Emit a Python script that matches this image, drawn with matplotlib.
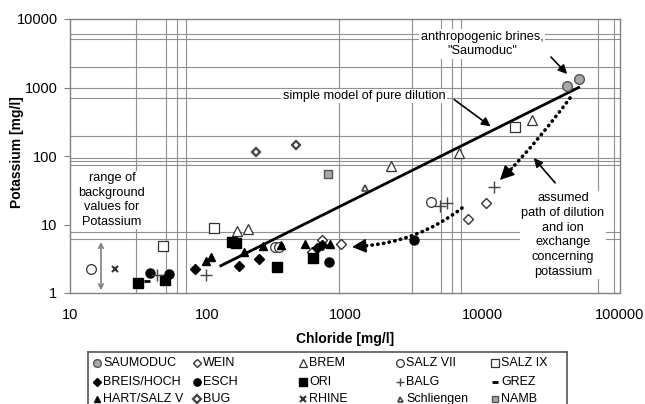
import matplotlib.pyplot as plt

plt.rcParams['font.family'] = ['Liberation Sans', 'DejaVu Sans']

# Chloride / Potassium values [mg/l]
saumoduc_cl = [41200, 50400]
saumoduc_k = [1050, 1330]
wein_cl = [681, 935, 575, 7850, 10600]
wein_k = [5.9, 5.2, 4.0, 12, 20.6]
brem_cl = [164, 197, 2160, 6750, 22900]
brem_k = [8.0, 8.6, 71, 111, 336]
salz7_cl = [14.2, 310, 331, 4220]
salz7_k = [2.24, 4.7, 4.7, 21]
salz9_cl = [47.4, 111, 17200]
salz9_k = [4.9, 8.9, 265]
breis_cl = [81, 169, 237, 625, 681]
breis_k = [2.24, 2.48, 3.13, 4.5, 5.0]
esch_cl = [38.2, 52.5, 766, 3180]
esch_k = [1.96, 1.89, 2.8, 5.9]
ori_cl = [31.3, 49.1, 151, 160, 320, 585]
ori_k = [1.40, 1.55, 5.6, 5.4, 2.4, 3.24]
balg_cl = [43, 97.5, 4900, 5520, 12100]
balg_k = [1.83, 1.83, 18.6, 20.6, 35]
grez_cl = [36.3]
grez_k = [1.5]
hart_cl = [97.5, 106, 184, 253, 343, 512, 778]
hart_k = [2.93, 3.36, 3.96, 4.9, 5.0, 5.2, 5.2]
bug_cl = [225, 440]
bug_k = [114, 145]
rhine_cl = [21.2]
rhine_k = [2.24]
schliengen_cl = [1397]
schliengen_k = [34]
namb_cl = [752]
namb_k = [55]

# simple model of pure dilution
dilution_cl = [125, 50000]
dilution_k = [2.5, 1000]

# odd grid lines of the original figure
grid_x = [30, 50, 60, 70, 904, 3070, 5000, 6000, 7000, 69000, 90000]
grid_y = [6000, 5100, 2000, 985, 703, 196, 93, 85, 74, 7.8, 6.1]

# name, x, y, marker, size, face, edge, edge width
series = [
    ('SAUMODUC', saumoduc_cl, saumoduc_k, 'o', 7, '#a8a8a8', '#555555', 1.0),
    ('WEIN', wein_cl, wein_k, 'D', 5, 'white', '#333333', 1.0),
    ('BREM', brem_cl, brem_k, '^', 7, 'white', '#333333', 0.9),
    ('SALZ VII', salz7_cl, salz7_k, 'o', 7, 'white', '#333333', 0.9),
    ('SALZ IX', salz9_cl, salz9_k, 's', 7, 'white', '#333333', 0.9),
    ('BREIS/HOCH', breis_cl, breis_k, 'D', 5, 'black', 'black', 1.0),
    ('ESCH', esch_cl, esch_k, 'o', 6.5, 'black', 'black', 1.0),
    ('ORI', ori_cl, ori_k, 's', 6.5, 'black', 'black', 1.0),
    ('BALG', balg_cl, balg_k, '+', 8, 'none', '#444444', 1.0),
    ('GREZ', grez_cl, grez_k, '_', 5, 'none', 'black', 2.0),
    ('HART/SALZ V', hart_cl, hart_k, '^', 6, 'black', 'black', 1.0),
    ('BUG', bug_cl, bug_k, 'D', 4.5, 'white', '#444444', 1.6),
    ('RHINE', rhine_cl, rhine_k, 'x', 5, 'none', '#333333', 1.5),
    ('Schliengen', schliengen_cl, schliengen_k, '^', 4.5, 'white', '#444444', 1.2),
    ('NAMB', namb_cl, namb_k, 's', 6, '#a8a8a8', '#555555', 1.0),
]

fig = plt.figure(figsize=(6.45, 4.04), dpi=100)
ax = fig.add_axes([70 / 645, 111 / 404, 550 / 645, 274 / 404])
ax.set_xscale('log')
ax.set_yscale('log')
ax.set_xlim(10, 100000)
ax.set_ylim(1, 10000)

for gx in grid_x:
    ax.axvline(gx, color='#909090', lw=0.8, zorder=0.5)
for gy in grid_y:
    ax.axhline(gy, color='#909090', lw=0.8, zorder=0.5)

ax.plot(dilution_cl, dilution_k, color='black', lw=2, zorder=2)

for name, x, y, m, ms, fc, ec, mew in series:
    ax.plot(x, y, linestyle='none', marker=m, ms=ms, mfc=fc, mec=ec,
            mew=mew, zorder=3)

ax.set_xticks([10, 100, 1000, 10000, 100000])
ax.set_xticklabels(['10', '100', '1000', '10000', '100000'])
ax.set_yticks([1, 10, 100, 1000, 10000])
ax.set_yticklabels(['1', '10', '100', '1000', '10000'])
ax.minorticks_off()
ax.tick_params(axis='x', length=0, pad=11, labelsize=10.5)
ax.tick_params(axis='y', length=4, color='#808080', pad=5, labelsize=10.5)
for sp in ax.spines.values():
    sp.set_color('#808080')
    sp.set_linewidth(1)

box = dict(facecolor='white', edgecolor='none', pad=1)
arrow = dict(arrowstyle='-|>', color='black', lw=1.2, mutation_scale=13)

ax.text(1375, 752, 'simple model of pure dilution', ha='center', va='center',
        fontsize=9.2, bbox=box, zorder=4)
ax.annotate('', xy=(11900, 256), xytext=(6000, 703), arrowprops=arrow)

ax.text(9900, 4310, 'anthropogenic brines,\n"Saumoduc"', ha='center',
        va='center', fontsize=9.2, linespacing=1.3, bbox=box, zorder=4)
ax.annotate('', xy=(42600, 1470), xytext=(30500, 2980), arrowprops=arrow)

ax.text(38500, 7.03, 'assumed\npath of dilution\nand ion\nexchange\nconcerning\npotassium',
        ha='center', va='center', fontsize=9.2, linespacing=1.3, bbox=box, zorder=4)
ax.annotate('', xy=(22900, 100), xytext=(34800, 37.8), arrowprops=arrow)

ax.text(20.2, 22.8, 'range of\nbackground\nvalues for\nPotassium', ha='center',
        va='center', fontsize=9.2, linespacing=1.3, bbox=box, zorder=4)
ax.annotate('', xy=(16.8, 1.0), xytext=(16.8, 6.1),
            arrowprops=dict(arrowstyle='<->', color='#808080', lw=1.2,
                            mutation_scale=8))

# dotted paths: dotted body plus a solid head
dots = dict(arrowstyle='-', color='black', lw=2.6, linestyle=(0, (0.1, 1.5)),
            capstyle='round', shrinkA=0, shrinkB=0)
head = dict(arrowstyle='-|>', color='black', lw=1, mutation_scale=22,
            shrinkA=0, shrinkB=0)
ax.annotate('', xy=(1350, 4.85), xytext=(7100, 17.4),
            arrowprops=dict(dots, connectionstyle='arc3,rad=-0.15'))
ax.annotate('', xy=(1125, 4.7), xytext=(1450, 4.9), arrowprops=head)
ax.annotate('', xy=(15000, 55), xytext=(43300, 703),
            arrowprops=dict(dots, connectionstyle='arc3,rad=-0.03'))
ax.annotate('', xy=(13400, 44.7), xytext=(16500, 68), arrowprops=head)

fig.text(345 / 645, 1 - 339 / 404, 'Chloride [mg/l]', ha='center', va='center',
         fontsize=10, fontweight='bold')
fig.text(17 / 645, 1 - 152 / 404, 'Potassium [mg/l]', ha='center', va='center',
         fontsize=10, fontweight='bold', rotation=90)

# legend box, cut by the lower edge like in the original
lax = fig.add_axes([88 / 645, -10 / 404, 479 / 645, 62 / 404])
lax.set_xlim(0, 479)
lax.set_ylim(62, 0)
lax.set_xticks([])
lax.set_yticks([])
for sp in lax.spines.values():
    sp.set_color('#555555')
    sp.set_linewidth(1.2)
col_x = [9, 109, 215, 312, 407]
row_y = [11, 30, 47]
for i, (name, x, y, m, ms, fc, ec, mew) in enumerate(series):
    r, c = divmod(i, 5)
    lax.plot([col_x[c]], [row_y[r]], linestyle='none', marker=m, ms=ms * 0.8,
             mfc=fc, mec=ec, mew=mew)
    lax.text(col_x[c] + 6, row_y[r], name, ha='left', va='center', fontsize=9)

fig.savefig('out.png', dpi=100)
